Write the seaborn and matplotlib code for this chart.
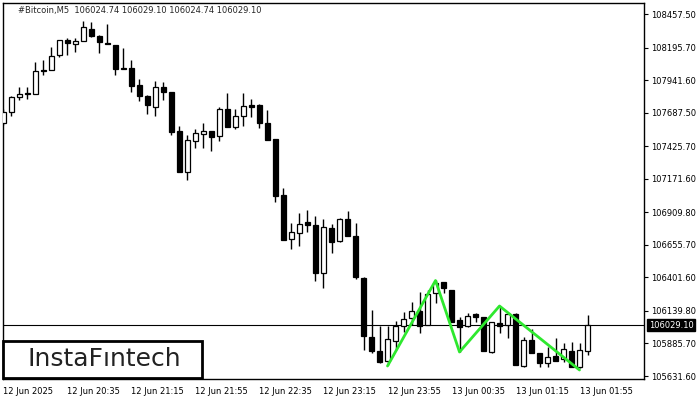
import numpy as np
import pandas as pd
import seaborn as sns
import matplotlib
matplotlib.use("Agg")
import matplotlib.pyplot as plt
import matplotlib.transforms as mtransforms
from matplotlib.patches import Rectangle

# 5 minute bars, 12 Jun 2025 19:55 -> 13 Jun 2025 02:00
opens = [107606.7, 107692.5, 107809.6, 107840.8, 107833.0, 108020.4, 108020.4, 108137.5, 108254.6, 108223.3,
         108246.8, 108340.4, 108285.8, 108231.1, 108215.5, 108036.0, 108036.0, 107903.3, 107817.4, 107731.6,
         107887.7, 107848.7, 107544.2, 107224.2, 107466.2, 107520.8, 107544.2, 107505.2, 107715.9, 107575.4,
         107661.3, 107747.2, 107747.2, 107606.7, 107481.8, 107044.6, 106701.2, 106748.0, 106833.9, 106810.5,
         106435.8, 106787.0, 106685.6, 106857.3, 106724.6, 106396.7, 105936.2, 105826.9, 105748.8, 105905.0,
         106022.0, 106084.5, 106139.1, 106029.9, 106279.6, 106365.5, 106303.1, 106068.9, 106022.0, 106115.7,
         106092.3, 105819.1, 106045.5, 106029.9, 106115.7, 105709.8, 105912.8, 105811.3, 105733.2, 105787.9,
         105764.5, 105826.9, 105702.0, 105826.9]
highs = [107715.9, 107817.4, 107887.7, 107887.7, 108082.8, 108098.4, 108199.9, 108254.6, 108270.2, 108270.2,
         108402.9, 108395.1, 108293.6, 108379.5, 108215.5, 108192.1, 108098.4, 107950.1, 107825.2, 107934.5,
         107926.7, 107848.7, 107583.2, 107513.0, 107559.8, 107606.7, 107544.2, 107731.6, 107840.8, 107715.9,
         107840.8, 107794.0, 107755.0, 107708.1, 107481.8, 107099.3, 106826.1, 106904.1, 106927.5, 106880.7,
         106857.3, 106818.3, 106865.1, 106919.7, 106826.1, 106404.5, 106146.9, 106022.0, 106022.0, 106061.1,
         106131.3, 106209.4, 106287.5, 106303.1, 106381.1, 106365.5, 106303.1, 106092.3, 106123.5, 106123.5,
         106092.3, 106053.3, 106170.4, 106115.7, 106123.5, 105936.2, 105998.6, 105811.3, 105858.1, 105928.4,
         105889.3, 105897.2, 105889.3, 106107.9]
lows = [107591.0, 107661.3, 107786.2, 107794.0, 107833.0, 107981.4, 108020.4, 108121.9, 108137.5, 108160.9,
        108246.8, 108278.0, 108153.1, 108223.3, 107981.4, 108028.2, 107848.7, 107778.4, 107676.9, 107661.3,
        107786.2, 107513.0, 107224.2, 107161.7, 107411.5, 107411.5, 107388.1, 107466.2, 107575.4, 107559.8,
        107583.2, 107653.5, 107567.6, 107474.0, 106990.0, 106693.4, 106623.1, 106646.5, 106755.8, 106373.3,
        106318.7, 106591.9, 106677.8, 106724.6, 106388.9, 105834.7, 105811.3, 105733.2, 105717.6, 105834.7,
        105975.2, 106029.9, 105967.4, 106029.9, 106201.6, 106279.6, 106053.3, 105819.1, 106014.2, 106053.3,
        105826.9, 105811.3, 105967.4, 105928.4, 105717.6, 105702.0, 105811.3, 105702.0, 105702.0, 105748.8,
        105741.0, 105702.0, 105694.2, 105795.7]
closes = [107692.5, 107809.6, 107833.0, 107833.0, 108012.6, 108012.6, 108129.7, 108254.6, 108231.1, 108246.8,
          108356.0, 108285.8, 108239.0, 108223.3, 108028.2, 108028.2, 107895.5, 107817.4, 107747.2, 107887.7,
          107848.7, 107536.4, 107224.2, 107474.0, 107528.6, 107544.2, 107497.4, 107715.9, 107575.4, 107661.3,
          107739.4, 107731.6, 107606.7, 107474.0, 107036.8, 106693.4, 106755.8, 106818.3, 106810.5, 106435.8,
          106794.8, 106677.8, 106857.3, 106724.6, 106404.5, 105944.0, 105826.9, 105741.0, 105920.6, 106022.0,
          106076.7, 106139.1, 106022.0, 106271.8, 106357.7, 106318.7, 106053.3, 106014.2, 106100.1, 106092.3,
          105826.9, 106053.3, 106022.0, 106115.7, 105717.6, 105912.8, 105811.3, 105733.2, 105780.1, 105748.8,
          105842.5, 105702.0, 105834.7, 106029.1]

# triple bottom pattern (bar index, price)
pattern_bar = [48, 54, 57, 62, 72]
pattern_price = [105709.8, 106377.0, 105819.1, 106178.2, 105678.6]

current_price = 106029.10
header = "#Bitcoin,M5  106024.74 106029.10 106024.74 106029.10"

y_ticks = [108457.50, 108195.70, 107941.60, 107687.50, 107425.70, 107171.60,
           106909.80, 106655.70, 106401.60, 106139.80, 105885.70, 105631.60]
x_tick_bars = [0, 8, 16, 24, 32, 40, 48, 56, 64, 72]
x_tick_labels = ["12 Jun 2025", "12 Jun 20:35", "12 Jun 21:15", "12 Jun 21:55", "12 Jun 22:35",
                 "12 Jun 23:15", "12 Jun 23:55", "13 Jun 00:35", "13 Jun 01:15", "13 Jun 01:55"]

df = pd.DataFrame({"bar": np.arange(len(opens)), "open": opens, "high": highs,
                   "low": lows, "close": closes})
df["up"] = df["close"] >= df["open"]

sns.set_style("white")
plt.rcParams["font.family"] = ["DejaVu Sans"]

fig = plt.figure(figsize=(7, 4), dpi=100)
ax = fig.add_axes([3 / 700, 21 / 400, 641 / 700, 376 / 400])

ax.axhline(current_price, color="black", lw=0.8, zorder=1)
ax.vlines(df["bar"], df["low"], df["high"], color="black", lw=1, zorder=2)
up = df[df["up"]]
down = df[~df["up"]]
ax.bar(up["bar"], up["close"] - up["open"], bottom=up["open"], width=0.6,
       facecolor="white", edgecolor="black", lw=0.9, zorder=3)
ax.bar(down["bar"], down["close"] - down["open"], bottom=down["open"], width=0.6,
       facecolor="black", edgecolor="black", lw=0.9, zorder=3)

sns.lineplot(x=pattern_bar, y=pattern_price, color="#2ee82e", lw=2, ax=ax, zorder=4)

ax.set_xlim(-0.06, 80.06)
ax.set_ylim(105608.3, 108543.4)

ax.yaxis.tick_right()
ax.set_yticks(y_ticks)
ax.set_yticklabels([f"{v:.2f}" for v in y_ticks])
ax.set_xticks(x_tick_bars)
ax.set_xticklabels(x_tick_labels, ha="left")
ax.tick_params(axis="y", length=3, width=0.8, pad=2, labelsize=6, colors="black", direction="out")
ax.tick_params(axis="x", length=4, width=0.8, pad=1.5, labelsize=6, colors="black", direction="out")
ax.set_xlabel("")
ax.set_ylabel("")
for s in ax.spines.values():
    s.set_color("black")
    s.set_linewidth(1)
    s.set_visible(True)

ax.text(0.023, 0.981, header, transform=ax.transAxes, fontsize=6, va="center", ha="left")

trans = mtransforms.blended_transform_factory(ax.transAxes, ax.transData)
ax.text(1.0 + 5 / 641, current_price, f"{current_price:.2f}", transform=trans, color="white",
        fontsize=6, va="center", ha="left", clip_on=False, zorder=6,
        bbox=dict(boxstyle="square,pad=0.2", fc="black", ec="black"))

ax.add_patch(Rectangle((0.0, 0.003), 199 / 641, 0.098, transform=ax.transAxes,
                       facecolor="white", edgecolor="black", lw=2, zorder=7, clip_on=False))
ax.text(101 / 641, 0.053, "InstaF\u0131ntech", transform=ax.transAxes, fontsize=18,
        color="#222222", ha="center", va="center", zorder=8)

fig.savefig("out.png", dpi=100)
